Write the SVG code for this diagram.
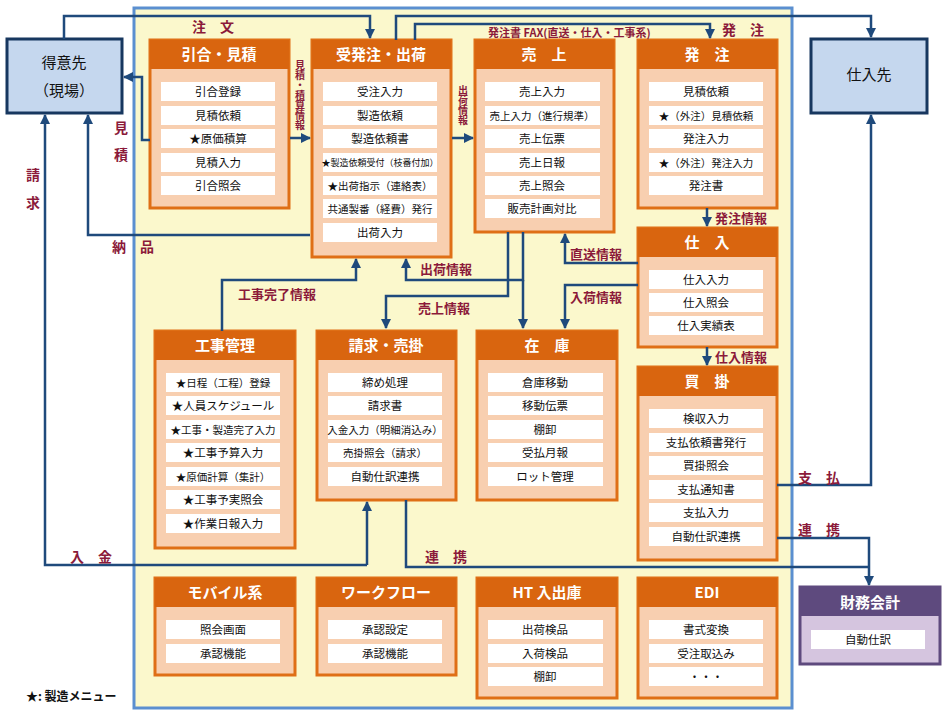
<svg xmlns="http://www.w3.org/2000/svg" width="950" height="720" viewBox="0 0 950 720">
<style>
text{font-family:"Noto Sans CJK JP","Noto Sans",sans-serif}
.mod{fill:#f8cfb0;stroke:#df6f16;stroke-width:3}
.hd{fill:#d9650f}
.ht{fill:#fff;font-size:15px;font-weight:bold;text-anchor:middle}
.it{fill:#fff}
.tt{fill:#111;font-size:11.5px;text-anchor:middle}
.ext{fill:#c5d7ee;stroke:#17375f;stroke-width:3}
.et{fill:#111;font-size:15px;text-anchor:middle}
.ln{fill:none;stroke:#1f4a7c;stroke-width:2.5}
.lb{fill:#8b1a3a;font-size:13px;font-weight:bold}
</style>
<defs>
<marker id="a" viewBox="0 0 10 10" refX="9" refY="5" markerWidth="4" markerHeight="4" orient="auto"><path d="M0,0L10,5L0,10z" fill="#1f4a7c"/></marker>
</defs>
<rect x="0" y="0" width="950" height="720" fill="#fff"/>
<rect x="134" y="8" width="658" height="700" fill="#fbf8cc" stroke="#5b8fd0" stroke-width="3"/>

<g id="customer"><rect class="ext" x="7" y="39" width="115" height="74"/><text class="et" x="64" y="68">得意先</text><text class="et" x="64" y="96">（現場）</text></g>
<g id="supplier"><rect class="ext" x="811" y="39" width="116" height="74"/><text class="et" x="869" y="80">仕入先</text></g>

<g id="hikiai"><rect class="mod" x="150" y="40" width="139" height="168"/><rect class="hd" x="150" y="40" width="139" height="29"/><text class="ht" x="219" y="60">引合・見積</text>
<rect class="it" x="161" y="82" width="114" height="19"/><text class="tt" x="218" y="96">引合登録</text>
<rect class="it" x="161" y="106" width="114" height="19"/><text class="tt" x="218" y="120">見積依頼</text>
<rect class="it" x="161" y="129" width="114" height="19"/><text class="tt" x="218" y="143">★原価積算</text>
<rect class="it" x="161" y="153" width="114" height="19"/><text class="tt" x="218" y="167">見積入力</text>
<rect class="it" x="161" y="176" width="114" height="19"/><text class="tt" x="218" y="190">引合照会</text></g>

<g id="juhatchu"><rect class="mod" x="312" y="40" width="139" height="217"/><rect class="hd" x="312" y="40" width="139" height="29"/><text class="ht" x="381" y="60">受発注・出荷</text>
<rect class="it" x="323" y="82" width="114" height="19"/><text class="tt" x="380" y="96">受注入力</text>
<rect class="it" x="323" y="106" width="114" height="19"/><text class="tt" x="380" y="120">製造依頼</text>
<rect class="it" x="323" y="129" width="114" height="19"/><text class="tt" x="380" y="143">製造依頼書</text>
<rect class="it" x="323" y="153" width="114" height="19"/><text class="tt" x="380" y="166" style="font-size:9px">★製造依頼受付（枝番付加）</text>
<rect class="it" x="323" y="176" width="114" height="19"/><text class="tt" x="380" y="190" style="font-size:10.5px">★出荷指示（連絡表）</text>
<rect class="it" x="323" y="199" width="114" height="19"/><text class="tt" x="380" y="213" style="font-size:10.5px">共通製番（経費）発行</text>
<rect class="it" x="323" y="223" width="114" height="19"/><text class="tt" x="380" y="237">出荷入力</text></g>

<g id="uriage"><rect class="mod" x="475" y="40" width="139" height="192"/><rect class="hd" x="475" y="40" width="139" height="29"/><text class="ht" x="544" y="60">売　上</text>
<rect class="it" x="485" y="82" width="115" height="19"/><text class="tt" x="542" y="96">売上入力</text>
<rect class="it" x="485" y="106" width="115" height="19"/><text class="tt" x="542" y="120" style="font-size:10.5px">売上入力（進行規準）</text>
<rect class="it" x="485" y="129" width="115" height="19"/><text class="tt" x="542" y="143">売上伝票</text>
<rect class="it" x="485" y="153" width="115" height="19"/><text class="tt" x="542" y="167">売上日報</text>
<rect class="it" x="485" y="176" width="115" height="19"/><text class="tt" x="542" y="190">売上照会</text>
<rect class="it" x="485" y="199" width="115" height="19"/><text class="tt" x="542" y="213">販売計画対比</text></g>

<g id="hatchu"><rect class="mod" x="638" y="40" width="139" height="168"/><rect class="hd" x="638" y="40" width="139" height="29"/><text class="ht" x="707" y="60">発　注</text>
<rect class="it" x="649" y="82" width="114" height="19"/><text class="tt" x="706" y="96">見積依頼</text>
<rect class="it" x="649" y="106" width="114" height="19"/><text class="tt" x="706" y="120" style="font-size:10.5px">★（外注）見積依頼</text>
<rect class="it" x="649" y="129" width="114" height="19"/><text class="tt" x="706" y="143">発注入力</text>
<rect class="it" x="649" y="153" width="114" height="19"/><text class="tt" x="706" y="167" style="font-size:10.5px">★（外注）発注入力</text>
<rect class="it" x="649" y="176" width="114" height="19"/><text class="tt" x="706" y="190">発注書</text></g>

<g id="shiire"><rect class="mod" x="638" y="228" width="139" height="119"/><rect class="hd" x="638" y="228" width="139" height="29"/><text class="ht" x="707" y="248">仕　入</text>
<rect class="it" x="649" y="270" width="114" height="19"/><text class="tt" x="706" y="284">仕入入力</text>
<rect class="it" x="649" y="293" width="114" height="19"/><text class="tt" x="706" y="307">仕入照会</text>
<rect class="it" x="649" y="316" width="114" height="19"/><text class="tt" x="706" y="330">仕入実績表</text></g>

<g id="kaikake"><rect class="mod" x="638" y="367" width="139" height="193"/><rect class="hd" x="638" y="367" width="139" height="29"/><text class="ht" x="707" y="387">買　掛</text>
<rect class="it" x="649" y="409" width="114" height="19"/><text class="tt" x="706" y="423">検収入力</text>
<rect class="it" x="649" y="433" width="114" height="19"/><text class="tt" x="706" y="447">支払依頼書発行</text>
<rect class="it" x="649" y="456" width="114" height="19"/><text class="tt" x="706" y="470">買掛照会</text>
<rect class="it" x="649" y="480" width="114" height="19"/><text class="tt" x="706" y="494">支払通知書</text>
<rect class="it" x="649" y="503" width="114" height="19"/><text class="tt" x="706" y="517">支払入力</text>
<rect class="it" x="649" y="527" width="114" height="19"/><text class="tt" x="706" y="541">自動仕訳連携</text></g>

<g id="koji"><rect class="mod" x="155" y="331" width="140" height="217"/><rect class="hd" x="155" y="331" width="140" height="29"/><text class="ht" x="225" y="351">工事管理</text>
<rect class="it" x="166" y="373" width="114" height="19"/><text class="tt" x="223" y="387" style="font-size:10.5px">★日程（工程）登録</text>
<rect class="it" x="166" y="396" width="114" height="19"/><text class="tt" x="223" y="410">★人員スケジュール</text>
<rect class="it" x="166" y="420" width="114" height="19"/><text class="tt" x="223" y="434" style="font-size:10.5px">★工事・製造完了入力</text>
<rect class="it" x="166" y="443" width="114" height="19"/><text class="tt" x="223" y="457">★工事予算入力</text>
<rect class="it" x="166" y="467" width="114" height="19"/><text class="tt" x="223" y="481" style="font-size:10.5px">★原価計算（集計）</text>
<rect class="it" x="166" y="490" width="114" height="19"/><text class="tt" x="223" y="504">★工事予実照会</text>
<rect class="it" x="166" y="514" width="114" height="19"/><text class="tt" x="223" y="528">★作業日報入力</text></g>

<g id="seikyu"><rect class="mod" x="317" y="331" width="139" height="169"/><rect class="hd" x="317" y="331" width="139" height="29"/><text class="ht" x="386" y="351">請求・売掛</text>
<rect class="it" x="328" y="373" width="114" height="19"/><text class="tt" x="385" y="387">締め処理</text>
<rect class="it" x="328" y="396" width="114" height="19"/><text class="tt" x="385" y="410">請求書</text>
<rect class="it" x="328" y="420" width="114" height="19"/><text class="tt" x="385" y="434" style="font-size:10.5px">入金入力（明細消込み）</text>
<rect class="it" x="328" y="443" width="114" height="19"/><text class="tt" x="385" y="457" style="font-size:10.5px">売掛照会（請求）</text>
<rect class="it" x="328" y="467" width="114" height="19"/><text class="tt" x="385" y="481">自動仕訳連携</text></g>

<g id="zaiko"><rect class="mod" x="477" y="331" width="140" height="169"/><rect class="hd" x="477" y="331" width="140" height="29"/><text class="ht" x="547" y="351">在　庫</text>
<rect class="it" x="488" y="373" width="115" height="19"/><text class="tt" x="545" y="387">倉庫移動</text>
<rect class="it" x="488" y="396" width="115" height="19"/><text class="tt" x="545" y="410">移動伝票</text>
<rect class="it" x="488" y="420" width="115" height="19"/><text class="tt" x="545" y="434">棚卸</text>
<rect class="it" x="488" y="443" width="115" height="19"/><text class="tt" x="545" y="457">受払月報</text>
<rect class="it" x="488" y="467" width="115" height="19"/><text class="tt" x="545" y="481">ロット管理</text></g>

<g id="mobile"><rect class="mod" x="155" y="578" width="140" height="97"/><rect class="hd" x="155" y="578" width="140" height="29"/><text class="ht" x="225" y="598">モバイル系</text>
<rect class="it" x="166" y="620" width="114" height="19"/><text class="tt" x="223" y="634">照会画面</text>
<rect class="it" x="166" y="644" width="114" height="19"/><text class="tt" x="223" y="658">承認機能</text></g>

<g id="workflow"><rect class="mod" x="317" y="578" width="139" height="97"/><rect class="hd" x="317" y="578" width="139" height="29"/><text class="ht" x="386" y="598">ワークフロー</text>
<rect class="it" x="328" y="620" width="114" height="19"/><text class="tt" x="385" y="634">承認設定</text>
<rect class="it" x="328" y="644" width="114" height="19"/><text class="tt" x="385" y="658">承認機能</text></g>

<g id="ht"><rect class="mod" x="477" y="578" width="140" height="120"/><rect class="hd" x="477" y="578" width="140" height="29"/><text class="ht" x="547" y="598">HT 入出庫</text>
<rect class="it" x="488" y="620" width="115" height="19"/><text class="tt" x="545" y="634">出荷検品</text>
<rect class="it" x="488" y="644" width="115" height="19"/><text class="tt" x="545" y="658">入荷検品</text>
<rect class="it" x="488" y="667" width="115" height="19"/><text class="tt" x="545" y="681">棚卸</text></g>

<g id="edi"><rect class="mod" x="638" y="578" width="139" height="120"/><rect class="hd" x="638" y="578" width="139" height="29"/><text class="ht" x="707" y="598">EDI</text>
<rect class="it" x="649" y="620" width="114" height="19"/><text class="tt" x="706" y="634">書式変換</text>
<rect class="it" x="649" y="644" width="114" height="19"/><text class="tt" x="706" y="658">受注取込み</text>
<rect class="it" x="649" y="667" width="114" height="19"/><text class="tt" x="706" y="681">・・・</text></g>

<g id="zaimu"><rect x="800" y="587" width="140" height="77" fill="#d5c5df" stroke="#5e4a7e" stroke-width="3"/><rect x="800" y="587" width="140" height="29" fill="#5e4a7e"/><text class="ht" x="870" y="608">財務会計</text>
<rect class="it" x="811" y="630" width="114" height="19"/><text class="tt" x="868" y="644">自動仕訳</text></g>

<g id="connectors">
<path class="ln" d="M64,39V16H370V38" marker-end="url(#a)"/>
<path class="ln" d="M396,40V16H871V37" marker-end="url(#a)"/>
<path class="ln" d="M415,40V24H710V38" marker-end="url(#a)"/>
<path class="ln" d="M150,140H142V77H124" marker-end="url(#a)"/>
<path class="ln" d="M310,235H88V115" marker-end="url(#a)"/>
<path class="ln" d="M367,565H45V115" marker-end="url(#a)"/>
<path class="ln" d="M367,565V502" marker-end="url(#a)"/>
<path class="ln" d="M290,138H310" marker-end="url(#a)"/>
<path class="ln" d="M452,138H473" marker-end="url(#a)"/>
<path class="ln" d="M222,331V280H356V259" marker-end="url(#a)"/>
<path class="ln" d="M523,232V280H406V259" marker-end="url(#a)"/>
<path class="ln" d="M523,280V328" marker-end="url(#a)"/>
<path class="ln" d="M508,232V296H386V328" marker-end="url(#a)"/>
<path class="ln" d="M638,263H565V234" marker-end="url(#a)"/>
<path class="ln" d="M638,285H565V328" marker-end="url(#a)"/>
<path class="ln" d="M707,208V226" marker-end="url(#a)"/>
<path class="ln" d="M707,347V365" marker-end="url(#a)"/>
<path class="ln" d="M777,485H871V115" marker-end="url(#a)"/>
<path class="ln" d="M777,538H869V585" marker-end="url(#a)"/>
<path class="ln" d="M406,500V567H869"/>
</g>

<g id="labels">
<text class="lb" x="192" y="32" style="font-size:14px">注　文</text>
<text class="lb" x="488" y="37" style="font-size:11px">発注書 FAX(直送・仕入・工事系)</text>
<text class="lb" x="722" y="35" style="font-size:14px">発　注</text>
<text class="lb" x="114" y="133" style="font-size:14px">見</text>
<text class="lb" x="114" y="160" style="font-size:14px">積</text>
<text class="lb" x="112" y="252" style="font-size:14px">納　品</text>
<text class="lb" x="26" y="180" style="font-size:14px">請</text>
<text class="lb" x="26" y="208" style="font-size:14px">求</text>
<text class="lb" x="70" y="562" style="font-size:14px">入　金</text>
<text class="lb" x="425" y="562" style="font-size:14px">連　携</text>
<text class="lb" x="798" y="483" style="font-size:14px">支　払</text>
<text class="lb" x="798" y="535" style="font-size:14px">連　携</text>
<text class="lb" x="300" y="60" style="font-size:10px;writing-mode:vertical-rl">見積・積算情報</text>
<text class="lb" x="463" y="85" style="font-size:10px;writing-mode:vertical-rl">出荷情報</text>
<text class="lb" x="238" y="299">工事完了情報</text>
<text class="lb" x="420" y="274">出荷情報</text>
<text class="lb" x="418" y="313">売上情報</text>
<text class="lb" x="570" y="259">直送情報</text>
<text class="lb" x="570" y="302">入荷情報</text>
<text class="lb" x="715" y="223">発注情報</text>
<text class="lb" x="715" y="362">仕入情報</text>
</g>
<text x="26" y="701" style="font-size:12px;font-weight:bold" fill="#111">★: 製造メニュー</text>
</svg>
